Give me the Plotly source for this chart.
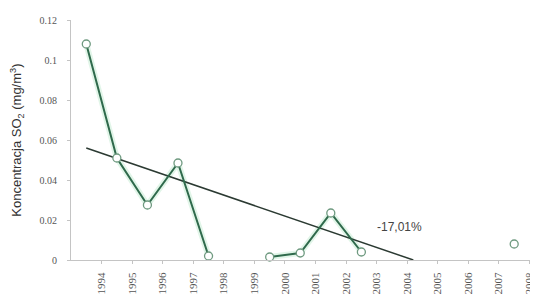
import plotly.graph_objects as go

# ---- data ----
years = [1994, 1995, 1996, 1997, 1998, 1999, 2000, 2001, 2002, 2003, 2004, 2005, 2006, 2007, 2008]
so2 = [0.108, 0.051, 0.0275, 0.0485, 0.002, None, 0.0015, 0.0035, 0.0235, 0.004, None, None, None, None, 0.008]
trend_x = [1994, 2004.7]
trend_y = [0.056, 0.0]
trend_label = "-17,01%"
tick_labels = [str(y) for y in years]
y_ticks = [0, 0.02, 0.04, 0.06, 0.08, 0.1, 0.12]
y_ticktext = ["0", "0.02", "0.04", "0.06", "0.08", "0.1", "0.12"]

GREEN = "#2f6a4c"
fig = go.Figure()

# soft halo under the line (scan look)
fig.add_trace(go.Scatter(x=years, y=so2, mode="lines", connectgaps=False,
                         line=dict(color="rgba(170,225,190,0.35)", width=6),
                         hoverinfo="skip", showlegend=False))
fig.add_trace(go.Scatter(x=trend_x, y=trend_y, mode="lines",
                         line=dict(color="#2b3a32", width=1.5), showlegend=False))
fig.add_trace(go.Scatter(x=years, y=so2, mode="lines+markers", connectgaps=False,
                         line=dict(color=GREEN, width=2),
                         marker=dict(symbol="circle", size=8, color="white",
                                     line=dict(color="#6f9a80", width=1.3)),
                         showlegend=False, cliponaxis=False))

fig.add_annotation(x=2004.25, y=0.0165, text=trend_label, showarrow=False,
                   xanchor="center", yanchor="middle",
                   font=dict(family="Liberation Sans, Arial", size=12, color="#444444"))

# y axis title
fig.add_annotation(xref="paper", yref="paper", x=-0.118, y=0.5,
                   text="Koncentracja SO<sub>2</sub> (mg/m<sup>3</sup>)",
                   textangle=-90, showarrow=False, xanchor="center", yanchor="middle",
                   font=dict(family="Liberation Sans, Arial", size=13, color="#333333"))

fig.update_layout(
    width=530, height=297,
    margin=dict(l=63, r=7, t=12, b=45, autoexpand=False),
    paper_bgcolor="white", plot_bgcolor="white",
    font=dict(family="Liberation Serif, Times New Roman", size=10, color="#555555"),
)
fig.update_xaxes(
    range=[1993.5, 2008.55],
    tickmode="array",
    tickvals=[y + 0.5 for y in years],
    ticktext=tick_labels,
    tickangle=-90,
    showgrid=False, zeroline=False, automargin=False,
    showline=True, linecolor="#c4c4c4", linewidth=1,
    ticks="outside", ticklen=3, tickcolor="#c4c4c4",
    ticklabelstandoff=4,
    tickfont=dict(family="Liberation Serif, Times New Roman", size=11, color="#555555"),
)
fig.update_yaxes(
    range=[0, 0.12],
    tickmode="array", tickvals=y_ticks, ticktext=y_ticktext,
    showgrid=False, zeroline=False, automargin=False,
    showline=True, linecolor="#c4c4c4", linewidth=1,
    ticks="outside", ticklen=3, tickcolor="#c4c4c4",
    ticklabelstandoff=8,
    tickfont=dict(family="Liberation Serif, Times New Roman", size=10, color="#555555"),
)

fig.write_html("out.html")
